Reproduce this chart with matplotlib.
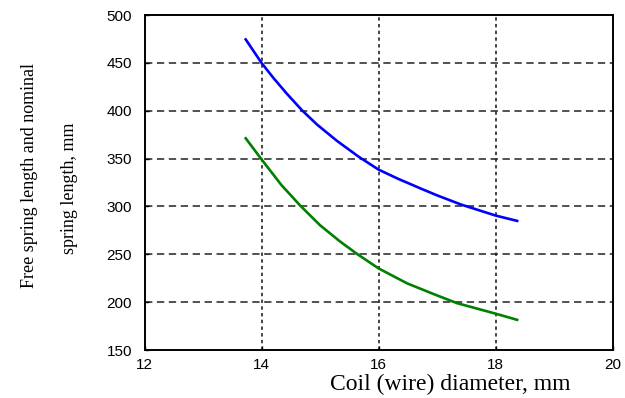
import numpy as np
import matplotlib
matplotlib.use("Agg")
import matplotlib.pyplot as plt

# coil diameter, mm
d_free = [13.73, 14.0, 14.2, 14.43, 14.69, 14.95, 15.29, 15.66, 16.0, 16.33, 16.73, 17.0, 17.41, 18.0, 18.37]
# free spring length, mm
free_len = [474.5, 450.0, 434.5, 418.0, 400.6, 385.5, 368.5, 352.0, 338.5, 329.0, 318.5, 311.6, 302.0, 290.5, 284.9]

d_nom = [13.73, 14.0, 14.34, 14.66, 15.0, 15.34, 15.63, 16.0, 16.49, 16.94, 17.34, 18.0, 18.37]
# nominal spring length, mm
nom_len = [371.2, 349.2, 322.4, 301.0, 280.4, 263.5, 250.5, 235.3, 219.6, 208.5, 199.0, 188.0, 181.5]

xticks = [12, 14, 16, 18, 20]
yticks = [150, 200, 250, 300, 350, 400, 450, 500]

fig = plt.figure(figsize=(6.25, 3.98), dpi=100)
ax = fig.add_axes([0.2312, 0.1206, 0.7488, 0.8417])

ax.plot(d_free, free_len, color=(0, 0, 1), lw=1.9, solid_joinstyle="round")
ax.plot(d_nom, nom_len, color=(0, 0.5, 0), lw=1.9, solid_joinstyle="round")

ax.set_xlim(12, 20)
ax.set_ylim(150, 500)
ax.set_xticks(xticks)
ax.set_yticks(yticks)

# grid: dotted verticals, dashed horizontals
for x in xticks[1:-1]:
    ax.axvline(x, color="#111111", lw=1.1, dashes=(2.2, 2.2), zorder=0)
for y in yticks[1:-1]:
    ax.axhline(y, color="#222222", lw=1.1, dashes=(4.8, 3.0), zorder=0)

for s in ax.spines.values():
    s.set_linewidth(1.4)
ax.tick_params(direction="in", length=3, width=1, labelsize=11)
ax.tick_params(axis="x", pad=6)
ax.tick_params(axis="y", pad=9)
for lab in ax.get_xticklabels() + ax.get_yticklabels():
    lab.set_fontfamily("Liberation Sans")

fig.text(0.72, 0.033, "Coil (wire) diameter, mm", ha="center", va="center",
         fontfamily="Liberation Serif", fontsize=17)
fig.text(0.047, 0.56, "Free spring length and nominal", ha="center", va="center",
         rotation=90, fontfamily="Liberation Serif", fontsize=13)
fig.text(0.112, 0.527, "spring length, mm", ha="center", va="center",
         rotation=90, fontfamily="Liberation Serif", fontsize=13)

fig.savefig("out.png", dpi=100)
